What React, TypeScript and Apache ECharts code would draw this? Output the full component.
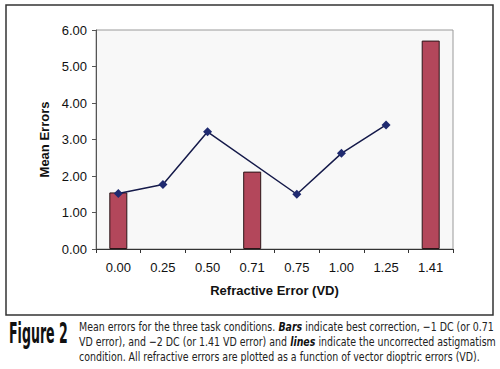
import React, { useEffect, useRef } from "react";
import * as echarts from "echarts";

const categories = ["0.00", "0.25", "0.50", "0.71", "0.75", "1.00", "1.25", "1.41"];
const barValues = [1.55, null, null, 2.12, null, null, null, 5.71];
const lineValues = [1.52, 1.77, 3.21, null, 1.5, 2.62, 3.4, null];
const yTicks = [0, 1, 2, 3, 4, 5, 6];

const captionLines = [
  "Mean errors for the three task conditions. {b|Bars} indicate best correction, \u22121 DC (or 0.71",
  "VD error), and \u22122 DC (or 1.41 VD error) and {b|lines} indicate the uncorrected astigmatism",
  "condition. All refractive errors are plotted as a function of vector dioptric errors (VD).",
];

export default function App() {
  const ref = useRef<HTMLDivElement>(null);
  useEffect(() => {
    if (!ref.current) return;
    const chart = echarts.init(ref.current, null, { renderer: "svg" });
    const narrow = "'DejaVu Sans Condensed', sans-serif";
    chart.setOption({
      animation: false,
      backgroundColor: "#ffffff",
      grid: {
        left: 96,
        top: 30,
        width: 357,
        height: 219,
        show: true,
        backgroundColor: "#f8f8f8",
        borderColor: "#9a9a9a",
        borderWidth: 1,
      },
      xAxis: {
        type: "category",
        data: categories,
        boundaryGap: true,
        name: "Refractive Error (VD)",
        nameLocation: "middle",
        nameGap: 35,
        nameTextStyle: { fontFamily: "Liberation Sans, Arial, sans-serif", fontSize: 13, fontWeight: "bold", color: "#111" },
        axisLine: { lineStyle: { color: "#333", width: 1 } },
        axisTick: { show: true, alignWithLabel: false, length: 4, lineStyle: { color: "#333" } },
        axisLabel: { fontFamily: "Liberation Sans, Arial, sans-serif", fontSize: 13, color: "#111", margin: 12 },
      },
      yAxis: {
        type: "value",
        min: yTicks[0],
        max: yTicks[yTicks.length - 1],
        interval: 1,
        name: "Mean Errors",
        nameLocation: "middle",
        nameGap: 37,
        nameTextStyle: { fontFamily: "Liberation Sans, Arial, sans-serif", fontSize: 13, fontWeight: "bold", color: "#111" },
        axisLine: { show: true, lineStyle: { color: "#555", width: 1 } },
        axisTick: { show: true, length: 4, lineStyle: { color: "#555" } },
        splitLine: { show: false },
        axisLabel: {
          fontFamily: "Liberation Sans, Arial, sans-serif",
          fontSize: 13,
          color: "#111",
          margin: 9,
          formatter: (v: number) => v.toFixed(2),
        },
      },
      series: [
        {
          type: "bar",
          data: barValues,
          barWidth: 18,
          barGap: "-100%",
          itemStyle: { color: "#b3475b", borderColor: "#2a1518", borderWidth: 1 },
        },
        {
          type: "line",
          data: lineValues,
          connectNulls: true,
          symbol: "diamond",
          symbolSize: 9,
          lineStyle: { color: "#151a4a", width: 1.5 },
          itemStyle: { color: "#1f2a70" },
        },
      ],
      graphic: [
        {
          type: "rect",
          shape: { x: 6, y: 5, width: 487, height: 310 },
          style: { fill: "none", stroke: "#333", lineWidth: 1.5 },
          z: 10,
        },
        {
          type: "text",
          x: 9,
          y: 319,
          scaleX: 0.5,
          style: {
            text: "Figure 2",
            fontFamily: narrow,
            fontWeight: "bold",
            fontSize: 28,
            fill: "#111",
          },
        },
        ...captionLines.map((t, i) => ({
          type: "text",
          x: 79,
          y: 320 + i * 15,
          scaleX: 0.84,
          style: {
            text: t,
            fontFamily: narrow,
            fontSize: 12.5,
            fill: "#222",
            rich: {
              b: { fontFamily: narrow, fontSize: 12.5, fontWeight: "bold", fontStyle: "italic", fill: "#111" },
            },
          },
        })),
      ],
    });
    return () => chart.dispose();
  }, []);
  return (
    <div
      ref={ref}
      style={{ position: "fixed", left: 0, top: 0, width: 500, height: 369, background: "#fff" }}
    />
  );
}
